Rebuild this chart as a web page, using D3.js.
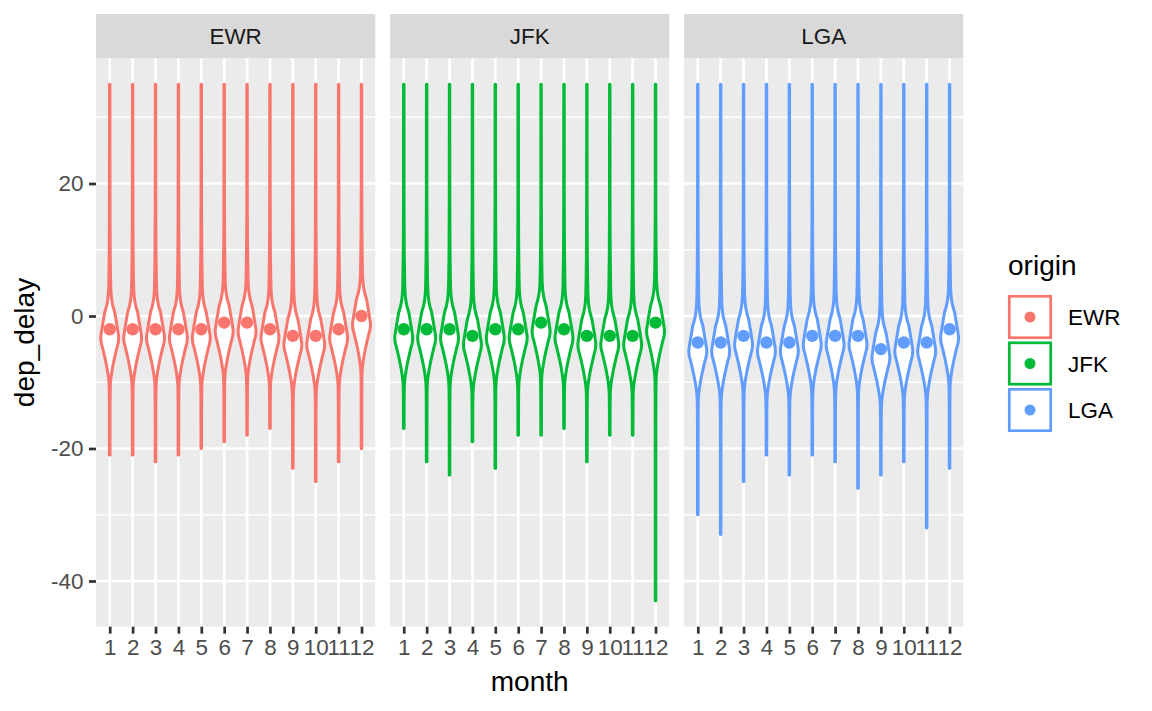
<!DOCTYPE html>
<html>
<head>
<meta charset="utf-8">
<script src="https://cdn.jsdelivr.net/npm/d3@7"></script>
<style>
  body { margin: 0; background: #fff; }
  svg { display: block; font-family: "Liberation Sans", Arial, sans-serif; }
</style>
</head>
<body>
<div id="chart"></div>
<script>
// Data
const origins = ["EWR", "JFK", "LGA"];
const months = [1, 2, 3, 4, 5, 6, 7, 8, 9, 10, 11, 12];
const originColors = ["#F8766D", "#00BA38", "#619CFF"];

const medianEWR = [-2, -2, -2, -2, -2, -1, -1, -2, -3, -3, -2, 0];
const medianJFK = [-2, -2, -2, -3, -2, -2, -1, -2, -3, -3, -3, -1];
const medianLGA = [-4, -4, -3, -4, -4, -3, -3, -3, -5, -4, -4, -2];

const maxEWR = [35, 35, 35, 35, 35, 35, 35, 35, 35, 35, 35, 35];
const maxJFK = [35, 35, 35, 35, 35, 35, 35, 35, 35, 35, 35, 35];
const maxLGA = [35, 35, 35, 35, 35, 35, 35, 35, 35, 35, 35, 35];

const minEWR = [-21, -21, -22, -21, -20, -19, -18, -17, -23, -25, -22, -20];
const minJFK = [-17, -22, -24, -19, -23, -18, -18, -17, -22, -18, -18, -43];
const minLGA = [-30, -33, -25, -21, -24, -21, -22, -26, -24, -22, -32, -23];

// Violin density profile: offset from the median and relative half-width
const profileOffset = [40, 20, 12, 8, 6, 4.5, 3.5, 2.5, 1.5, 0.5, -0.5, -1.2, -2, -2.6, -3.3, -4.1, -4.8, -5.6, -6.3, -7.1, -8.6, -11, -15, -50];
const profileWidth = [0.02, 0.025, 0.045, 0.08, 0.11, 0.19, 0.31, 0.49, 0.6, 0.71, 0.81, 0.87, 0.83, 0.73, 0.62, 0.5, 0.4, 0.3, 0.22, 0.14, 0.055, 0.035, 0.03, 0.02];

const yMajor = [-40, -20, 0, 20];
const yMinor = [-30, -10, 10, 30];

const medians = [medianEWR, medianJFK, medianLGA];
const maxes = [maxEWR, maxJFK, maxLGA];
const mins = [minEWR, minJFK, minLGA];

// Layout
const width = 1152;
const height = 711;
const pt = 2.55;
const panelLeft = 96;
const panelRight = 963.3;
const panelTop = 58.3;
const panelBottom = 626.7;
const stripTop = 14;
const panelGap = 5.8 * pt;
const panelW = (panelRight - panelLeft - 2 * panelGap) / 3;
const majorW = 2.7;
const violinW = 3;
const smallFont = 8.8 * pt;
const bigFont = 11 * pt;

const svg = d3
  .select("#chart")
  .append("svg")
  .attr("width", width)
  .attr("height", height)
  .attr("viewBox", [0, 0, width, height]);

// y scale with ggplot's 5% expansion
const lo = d3.min(mins.flat());
const hi = d3.max(maxes.flat());
const pad = (hi - lo) * 0.05;
const y = d3
  .scaleLinear()
  .domain([lo - pad, hi + pad])
  .range([panelBottom, panelTop]);

const x = d3.scalePoint().domain(months).range([0, panelW]).padding(0.6);
const halfW = x.step() * 0.45;

const asc = d3.range(profileOffset.length).reverse();
const widthAt = d3
  .scaleLinear()
  .domain(asc.map((i) => profileOffset[i]))
  .range(asc.map((i) => profileWidth[i]))
  .clamp(true);

function violinPoints(med, vmin, vmax) {
  const pts = [{ v: vmax, w: widthAt(vmax - med) }];
  profileOffset.forEach((o, i) => {
    const v = med + o;
    if (v < vmax && v > vmin) pts.push({ v, w: profileWidth[i] });
  });
  pts.push({ v: vmin, w: widthAt(vmin - med) });
  return pts;
}

const fmt = (d) => String(d);

origins.forEach((origin, k) => {
  const left = panelLeft + k * (panelW + panelGap);
  const color = originColors[k];

  // strip
  svg
    .append("rect")
    .attr("x", left)
    .attr("y", stripTop)
    .attr("width", panelW)
    .attr("height", panelTop - stripTop)
    .attr("fill", "#D9D9D9");

  svg
    .append("text")
    .attr("x", left + panelW / 2)
    .attr("y", (stripTop + panelTop) / 2)
    .attr("dy", "0.36em")
    .attr("text-anchor", "middle")
    .attr("fill", "#1A1A1A")
    .style("font-size", smallFont + "px")
    .text(origin);

  const g = svg.append("g").attr("transform", `translate(${left},0)`);

  g.append("rect")
    .attr("x", 0)
    .attr("y", panelTop)
    .attr("width", panelW)
    .attr("height", panelBottom - panelTop)
    .attr("fill", "#EBEBEB");

  g.selectAll(".minor")
    .data(yMinor)
    .join("line")
    .attr("x1", 0)
    .attr("x2", panelW)
    .attr("y1", (d) => y(d))
    .attr("y2", (d) => y(d))
    .attr("stroke", "#fff")
    .attr("stroke-width", majorW / 2);

  g.selectAll(".major")
    .data(yMajor)
    .join("line")
    .attr("x1", 0)
    .attr("x2", panelW)
    .attr("y1", (d) => y(d))
    .attr("y2", (d) => y(d))
    .attr("stroke", "#fff")
    .attr("stroke-width", majorW);

  g.selectAll(".vgrid")
    .data(months)
    .join("line")
    .attr("x1", (d) => x(d))
    .attr("x2", (d) => x(d))
    .attr("y1", panelTop)
    .attr("y2", panelBottom)
    .attr("stroke", "#fff")
    .attr("stroke-width", majorW);

  const data = months.map((m, i) => ({
    m,
    med: medians[k][i],
    pts: violinPoints(medians[k][i], mins[k][i], maxes[k][i]),
  }));

  g.selectAll(".violin")
    .data(data)
    .join("path")
    .attr("class", "violin")
    .attr("d", (d) =>
      d3
        .area()
        .y((p) => y(p.v))
        .x0((p) => x(d.m) - p.w * halfW)
        .x1((p) => x(d.m) + p.w * halfW)
        .curve(d3.curveMonotoneY)(d.pts)
    )
    .attr("fill", "#fff")
    .attr("stroke", color)
    .attr("stroke-width", violinW)
    .attr("stroke-linejoin", "round");

  g.selectAll(".dot")
    .data(data)
    .join("circle")
    .attr("cx", (d) => x(d.m))
    .attr("cy", (d) => y(d.med))
    .attr("r", 6.2)
    .attr("fill", color);

  // x axis
  const xa = g
    .append("g")
    .attr("transform", `translate(0,${panelBottom})`)
    .call(d3.axisBottom(x).tickSize(2.75 * pt).tickPadding(2.2 * pt).tickFormat(fmt));
  xa.select(".domain").remove();
  xa.selectAll("line").attr("stroke", "#333333").attr("stroke-width", majorW);
  xa.selectAll("text")
    .attr("fill", "#4D4D4D")
    .style("font-size", smallFont + "px")
    .style("font-family", '"Liberation Sans", Arial, sans-serif');
});

// y axis
const ya = svg
  .append("g")
  .attr("transform", `translate(${panelLeft},0)`)
  .call(
    d3.axisLeft(y).tickValues(yMajor).tickSize(2.75 * pt).tickPadding(2.2 * pt).tickFormat(fmt)
  );
ya.select(".domain").remove();
ya.selectAll("line").attr("stroke", "#333333").attr("stroke-width", majorW);
ya.selectAll("text")
  .attr("fill", "#4D4D4D")
  .style("font-size", smallFont + "px")
  .style("font-family", '"Liberation Sans", Arial, sans-serif');

// axis titles
svg
  .append("text")
  .attr("x", (panelLeft + panelRight) / 2)
  .attr("y", 691)
  .attr("text-anchor", "middle")
  .attr("fill", "#000")
  .style("font-size", bigFont + "px")
  .text("month");

svg
  .append("text")
  .attr("transform", `translate(34,${(panelTop + panelBottom) / 2}) rotate(-90)`)
  .attr("text-anchor", "middle")
  .attr("fill", "#000")
  .style("font-size", bigFont + "px")
  .text("dep_delay");

// legend
const legend = svg.append("g").attr("transform", "translate(1008,0)");

legend
  .append("text")
  .attr("x", 0)
  .attr("y", 275)
  .attr("fill", "#000")
  .style("font-size", bigFont + "px")
  .text("origin");

const keyStep = 46.5;
const keyTop = 295;
const keys = legend
  .selectAll(".key")
  .data(origins)
  .join("g")
  .attr("transform", (d, i) => `translate(0,${keyTop + i * keyStep})`);

keys
  .append("rect")
  .attr("x", 1.3)
  .attr("y", 1.3)
  .attr("width", 41.4)
  .attr("height", 41.4)
  .attr("fill", "#fff")
  .attr("stroke", (d, i) => originColors[i])
  .attr("stroke-width", majorW);

keys
  .append("circle")
  .attr("cx", 22)
  .attr("cy", 22)
  .attr("r", 5.5)
  .attr("fill", (d, i) => originColors[i]);

keys
  .append("text")
  .attr("x", 60)
  .attr("y", 22)
  .attr("dy", "0.36em")
  .attr("fill", "#000")
  .style("font-size", smallFont + "px")
  .text((d) => d);
</script>
</body>
</html>
